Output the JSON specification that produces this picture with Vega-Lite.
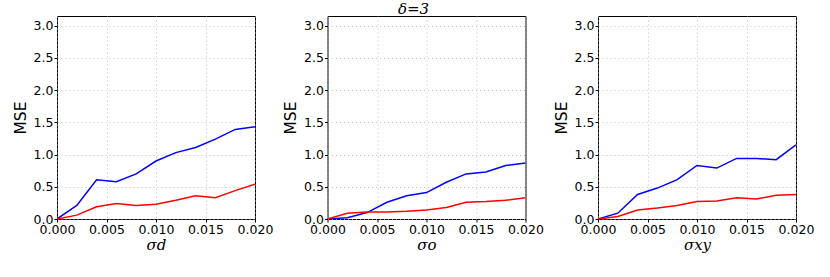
{
  "$schema": "https://vega.github.io/schema/vega-lite/v6.json",
  "padding": {"left": 12, "top": 1, "right": 5, "bottom": 5},
  "background": "white",
  "title": {"text": "δ=3", "font": "DejaVu Serif", "fontStyle": "italic", "fontWeight": "normal", "fontSize": 15, "anchor": "middle", "offset": -1, "color": "black"},
  "bounds": "flush",
  "spacing": 72.5,
  "datasets": {
    "mse": [
      {"panel": "d", "series": "s1", "sigma": 0.000, "mse": 0.00},
      {"panel": "d", "series": "s1", "sigma": 0.002, "mse": 0.21},
      {"panel": "d", "series": "s1", "sigma": 0.004, "mse": 0.61},
      {"panel": "d", "series": "s1", "sigma": 0.006, "mse": 0.58},
      {"panel": "d", "series": "s1", "sigma": 0.008, "mse": 0.70},
      {"panel": "d", "series": "s1", "sigma": 0.010, "mse": 0.90},
      {"panel": "d", "series": "s1", "sigma": 0.012, "mse": 1.03},
      {"panel": "d", "series": "s1", "sigma": 0.014, "mse": 1.11},
      {"panel": "d", "series": "s1", "sigma": 0.016, "mse": 1.24},
      {"panel": "d", "series": "s1", "sigma": 0.018, "mse": 1.39},
      {"panel": "d", "series": "s1", "sigma": 0.020, "mse": 1.43},
      {"panel": "d", "series": "s2", "sigma": 0.000, "mse": 0.00},
      {"panel": "d", "series": "s2", "sigma": 0.002, "mse": 0.06},
      {"panel": "d", "series": "s2", "sigma": 0.004, "mse": 0.19},
      {"panel": "d", "series": "s2", "sigma": 0.006, "mse": 0.24},
      {"panel": "d", "series": "s2", "sigma": 0.008, "mse": 0.21},
      {"panel": "d", "series": "s2", "sigma": 0.010, "mse": 0.23},
      {"panel": "d", "series": "s2", "sigma": 0.012, "mse": 0.29},
      {"panel": "d", "series": "s2", "sigma": 0.014, "mse": 0.36},
      {"panel": "d", "series": "s2", "sigma": 0.016, "mse": 0.33},
      {"panel": "d", "series": "s2", "sigma": 0.018, "mse": 0.44},
      {"panel": "d", "series": "s2", "sigma": 0.020, "mse": 0.54},
      {"panel": "o", "series": "s1", "sigma": 0.000, "mse": 0.00},
      {"panel": "o", "series": "s1", "sigma": 0.002, "mse": 0.02},
      {"panel": "o", "series": "s1", "sigma": 0.004, "mse": 0.10},
      {"panel": "o", "series": "s1", "sigma": 0.006, "mse": 0.26},
      {"panel": "o", "series": "s1", "sigma": 0.008, "mse": 0.36},
      {"panel": "o", "series": "s1", "sigma": 0.010, "mse": 0.41},
      {"panel": "o", "series": "s1", "sigma": 0.012, "mse": 0.57},
      {"panel": "o", "series": "s1", "sigma": 0.014, "mse": 0.70},
      {"panel": "o", "series": "s1", "sigma": 0.016, "mse": 0.73},
      {"panel": "o", "series": "s1", "sigma": 0.018, "mse": 0.83},
      {"panel": "o", "series": "s1", "sigma": 0.020, "mse": 0.87},
      {"panel": "o", "series": "s2", "sigma": 0.000, "mse": 0.00},
      {"panel": "o", "series": "s2", "sigma": 0.002, "mse": 0.09},
      {"panel": "o", "series": "s2", "sigma": 0.004, "mse": 0.11},
      {"panel": "o", "series": "s2", "sigma": 0.006, "mse": 0.11},
      {"panel": "o", "series": "s2", "sigma": 0.008, "mse": 0.12},
      {"panel": "o", "series": "s2", "sigma": 0.010, "mse": 0.14},
      {"panel": "o", "series": "s2", "sigma": 0.012, "mse": 0.18},
      {"panel": "o", "series": "s2", "sigma": 0.014, "mse": 0.26},
      {"panel": "o", "series": "s2", "sigma": 0.016, "mse": 0.27},
      {"panel": "o", "series": "s2", "sigma": 0.018, "mse": 0.29},
      {"panel": "o", "series": "s2", "sigma": 0.020, "mse": 0.33},
      {"panel": "xy", "series": "s1", "sigma": 0.000, "mse": 0.00},
      {"panel": "xy", "series": "s1", "sigma": 0.002, "mse": 0.09},
      {"panel": "xy", "series": "s1", "sigma": 0.004, "mse": 0.38},
      {"panel": "xy", "series": "s1", "sigma": 0.006, "mse": 0.48},
      {"panel": "xy", "series": "s1", "sigma": 0.008, "mse": 0.61},
      {"panel": "xy", "series": "s1", "sigma": 0.010, "mse": 0.83},
      {"panel": "xy", "series": "s1", "sigma": 0.012, "mse": 0.79},
      {"panel": "xy", "series": "s1", "sigma": 0.014, "mse": 0.94},
      {"panel": "xy", "series": "s1", "sigma": 0.016, "mse": 0.94},
      {"panel": "xy", "series": "s1", "sigma": 0.018, "mse": 0.92},
      {"panel": "xy", "series": "s1", "sigma": 0.020, "mse": 1.15},
      {"panel": "xy", "series": "s2", "sigma": 0.000, "mse": 0.00},
      {"panel": "xy", "series": "s2", "sigma": 0.002, "mse": 0.04},
      {"panel": "xy", "series": "s2", "sigma": 0.004, "mse": 0.14},
      {"panel": "xy", "series": "s2", "sigma": 0.006, "mse": 0.17},
      {"panel": "xy", "series": "s2", "sigma": 0.008, "mse": 0.21},
      {"panel": "xy", "series": "s2", "sigma": 0.010, "mse": 0.27},
      {"panel": "xy", "series": "s2", "sigma": 0.012, "mse": 0.28},
      {"panel": "xy", "series": "s2", "sigma": 0.014, "mse": 0.33},
      {"panel": "xy", "series": "s2", "sigma": 0.016, "mse": 0.31},
      {"panel": "xy", "series": "s2", "sigma": 0.018, "mse": 0.37},
      {"panel": "xy", "series": "s2", "sigma": 0.020, "mse": 0.38}
    ]
  },
  "data": {"name": "mse"},
  "hconcat": [
    {
      "width": 198, "height": 203,
      "transform": [{"filter": "datum.panel == 'd'"}],
      "mark": {"type": "line", "strokeWidth": 1.5, "clip": true},
      "encoding": {
        "x": {"field": "sigma", "type": "quantitative", "scale": {"domain": [0, 0.02], "nice": false, "zero": false}, "axis": {"title": "σd", "values": [0, 0.005, 0.01, 0.015, 0.02], "format": ".3f"}},
        "y": {"field": "mse", "type": "quantitative", "scale": {"domain": [0, 3.15], "nice": false}, "axis": {"title": "MSE", "values": [0, 0.5, 1, 1.5, 2, 2.5, 3], "format": ".1f"}},
        "color": {"field": "series", "type": "nominal", "scale": {"domain": ["s1", "s2"], "range": ["#0000ff", "#ff0000"]}, "legend": null}
      }
    },
    {
      "width": 198, "height": 203,
      "transform": [{"filter": "datum.panel == 'o'"}],
      "mark": {"type": "line", "strokeWidth": 1.5, "clip": true},
      "encoding": {
        "x": {"field": "sigma", "type": "quantitative", "scale": {"domain": [0, 0.02], "nice": false, "zero": false}, "axis": {"title": "σo", "values": [0, 0.005, 0.01, 0.015, 0.02], "format": ".3f"}},
        "y": {"field": "mse", "type": "quantitative", "scale": {"domain": [0, 3.15], "nice": false}, "axis": {"title": "MSE", "values": [0, 0.5, 1, 1.5, 2, 2.5, 3], "format": ".1f"}},
        "color": {"field": "series", "type": "nominal", "scale": {"domain": ["s1", "s2"], "range": ["#0000ff", "#ff0000"]}, "legend": null}
      }
    },
    {
      "width": 198, "height": 203,
      "transform": [{"filter": "datum.panel == 'xy'"}],
      "mark": {"type": "line", "strokeWidth": 1.5, "clip": true},
      "encoding": {
        "x": {"field": "sigma", "type": "quantitative", "scale": {"domain": [0, 0.02], "nice": false, "zero": false}, "axis": {"title": "σxy", "values": [0, 0.005, 0.01, 0.015, 0.02], "format": ".3f"}},
        "y": {"field": "mse", "type": "quantitative", "scale": {"domain": [0, 3.15], "nice": false}, "axis": {"title": "MSE", "values": [0, 0.5, 1, 1.5, 2, 2.5, 3], "format": ".1f"}},
        "color": {"field": "series", "type": "nominal", "scale": {"domain": ["s1", "s2"], "range": ["#0000ff", "#ff0000"]}, "legend": null}
      }
    }
  ],
  "resolve": {"scale": {"x": "independent", "y": "independent"}},
  "config": {
    "view": {"stroke": "black", "strokeWidth": 1},
    "axis": {
      "domain": false,
      "tickColor": "black",
      "tickSize": 3,
      "labelColor": "black",
      "labelFont": "DejaVu Sans",
      "labelFontSize": 12.5,
      "labelPadding": 1,
      "labelFlush": false,
      "labelOverlap": false,
      "grid": true,
      "gridColor": "#b0b0b0",
      "gridDash": [1, 3],
      "gridWidth": 0.8,
      "titleColor": "black",
      "titleFontWeight": "normal"
    },
    "axisX": {"titleFont": "DejaVu Serif", "titleFontStyle": "italic", "titleFontSize": 15, "titlePadding": 2},
    "axisY": {"titleFont": "DejaVu Sans", "titleFontSize": 15.5, "titlePadding": 5}
  }
}
